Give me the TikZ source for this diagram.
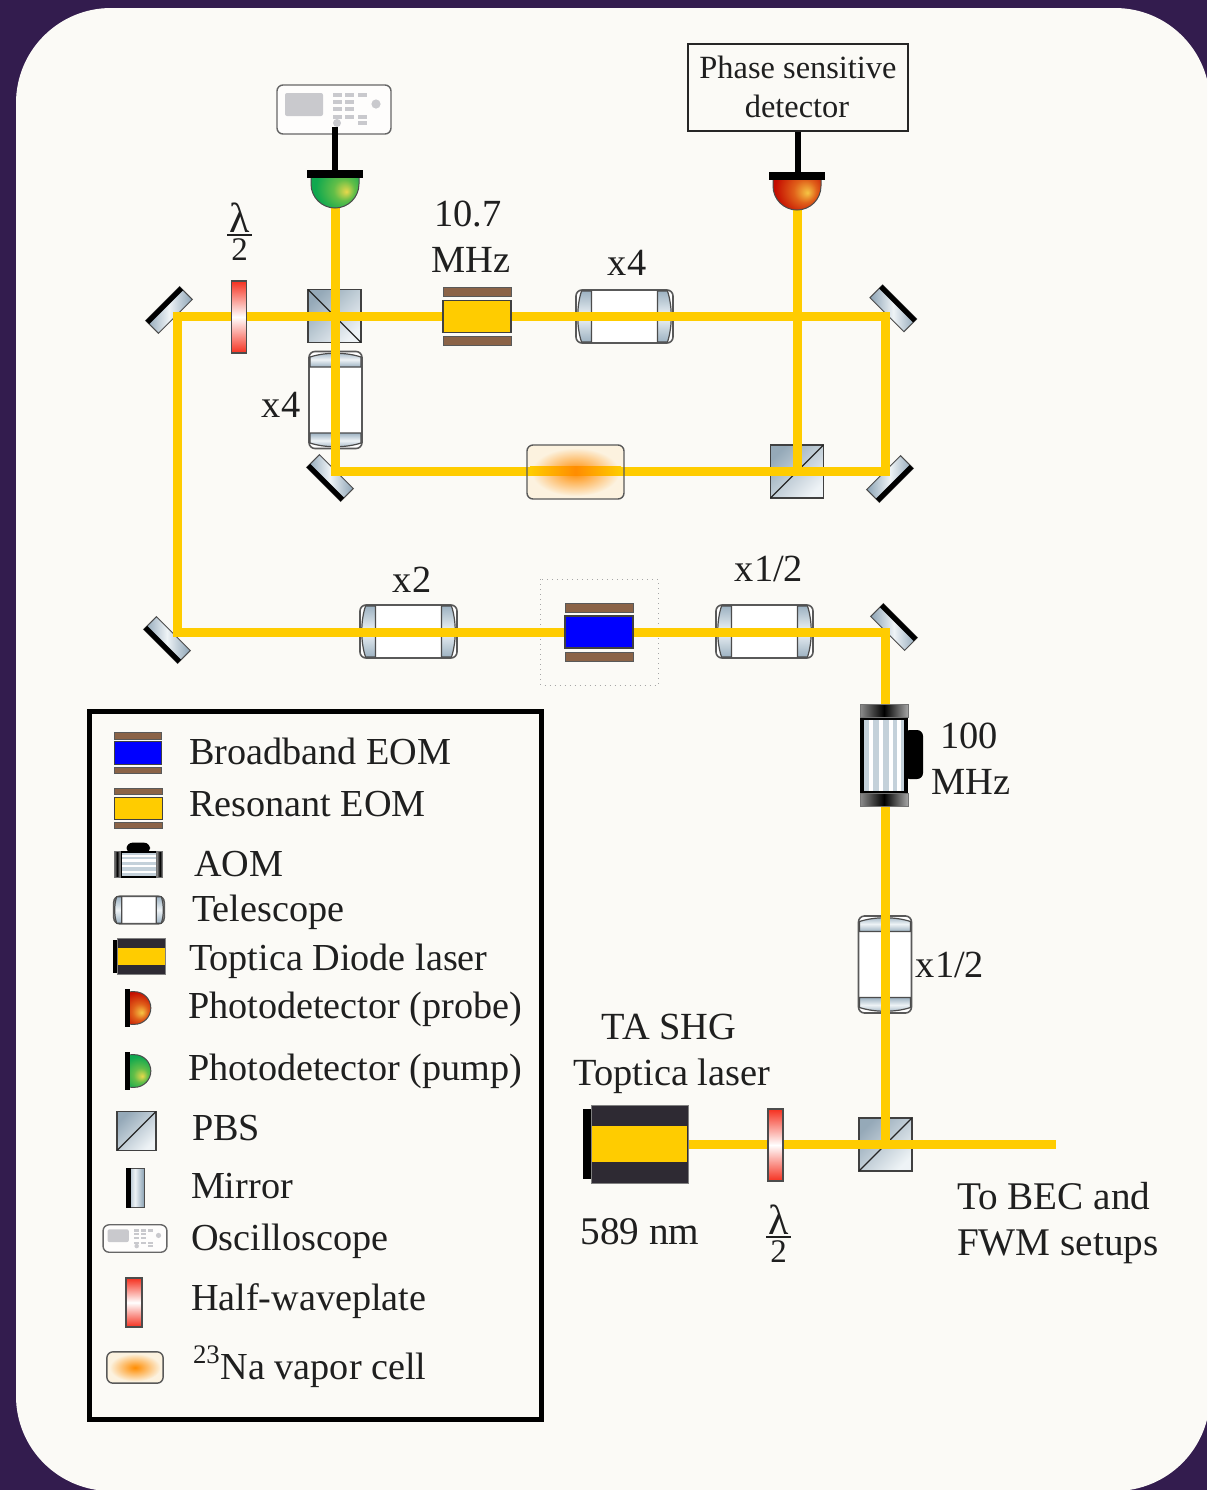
\documentclass[tikz,border=0pt]{standalone}
\usepackage{fontspec}
\setmainfont{Liberation Serif}
\definecolor{bgp}{HTML}{331C4E}
\definecolor{panelc}{HTML}{FBFAF6}
\definecolor{beamc}{HTML}{FFCC00}
\definecolor{silver}{HTML}{9DB2C2}
\definecolor{silverd}{HTML}{8CA3B5}
\definecolor{silverl}{HTML}{EEF3F6}
\definecolor{brownb}{HTML}{8B6347}
\definecolor{laserd}{HTML}{2E2A33}
\definecolor{btn}{HTML}{C9C9CD}
\definecolor{gy}{HTML}{E8D84C}
\definecolor{gm}{HTML}{62BE48}
\definecolor{gg}{HTML}{0FA84F}
\definecolor{ry}{HTML}{F6C544}
\definecolor{rm}{HTML}{E0601A}
\definecolor{rr}{HTML}{C40C00}
\definecolor{plater}{HTML}{F5301F}
\definecolor{cellf}{HTML}{FCF2DF}
\definecolor{cello}{HTML}{FF8C00}
\pgfdeclareradialshading{greendome}{\pgfpoint{12bp}{-8bp}}{color(0bp)=(gy); color(11bp)=(gm); color(26bp)=(gg); color(50bp)=(gg)}
\pgfdeclareradialshading{reddome}{\pgfpoint{11bp}{-7bp}}{color(0bp)=(ry); color(12bp)=(rm); color(28bp)=(rr); color(50bp)=(rr)}
\tikzset{
  x=0.5pt,y=-0.5pt,
  beam/.style={draw=beamc,line width=4.5pt,line cap=butt,line join=miter},
  lbl/.style={inner sep=0pt,outer sep=0pt,anchor=base,text=black!88,font=\fontsize{19.2}{22}\selectfont},
  lblwide/.style={lbl,font=\fontsize{19.6}{22}\selectfont},
  lgd/.style={lbl,anchor=base west,font=\fontsize{19.1}{22}\selectfont},
  wire/.style={draw=black,line width=2.6pt},
  pics/mirrorel/.style={code={
    \shade[left color=silverd,right color=silverd,middle color=silverl,draw=black!70,line width=.5pt] (-24,-9) rectangle (24,9);
    \fill[black] (-24,-9) rectangle (24,-4);
  }},
  pics/plateel/.style={code={
    \shade[top color=plater,bottom color=plater,middle color=white,draw=black!70,line width=.7pt] (-7.5,-36) rectangle (7.5,36);
  }},
  pics/pbsel/.style={code={
    \shade[top color=silver!95!black,bottom color=silverl,shading angle=45,draw=black!75,line width=.7pt] (-26.5,-26.5) rectangle (26.5,26.5);
    \draw[black!85,line width=.6pt] (-26.5,26.5) -- (26.5,-26.5);
  }},
  pics/teleel/.style={code={
    \draw[draw=black!65,fill=white,line width=.8pt,rounded corners=3pt] (-48.5,-26.5) rectangle (48.5,26.5);
    \shade[top color=silver,bottom color=silver,middle color=silverl,draw=black!70,line width=.6pt] (-33,-25.5) -- (-43,-25.5) .. controls (-48,-10) and (-48,10) .. (-43,25.5) -- (-33,25.5) -- cycle;
    \shade[top color=silver,bottom color=silver,middle color=silverl,draw=black!70,line width=.6pt] (33,-25.5) -- (43,-25.5) .. controls (48,-10) and (48,10) .. (43,25.5) -- (33,25.5) -- cycle;
  }},
  pics/eomel/.style={code={
    \fill[#1,draw=black!75,line width=.6pt] (-34,-16) rectangle (34,16);
    \fill[brownb,draw=black!65,line width=.5pt] (-34,-29) rectangle (34,-20);
    \fill[brownb,draw=black!65,line width=.5pt] (-34,20) rectangle (34,29);
  }},
  pics/aomel/.style={code={
    \fill[black,rounded corners=3pt] (20,-25) rectangle (39,24);
    \fill[black] (-24,-40) rectangle (24,40);
    \fill[silver!60] (-20,-35) rectangle (20,36);
    \fill[white] (-15,-35) rectangle (-11,36);
    \fill[white] (-5,-35) rectangle (-1,36);
    \fill[white] (5,-35) rectangle (9,36);
    \fill[white] (13,-35) rectangle (17,36);
    \shade[left color=black!45,right color=black!35,middle color=black,draw=black!55,line width=.5pt] (-24,-51) rectangle (24,-38);
    \shade[left color=black!45,right color=black!35,middle color=black,draw=black!55,line width=.5pt] (-24,38) rectangle (24,51);
  }},
  pics/laserel/.style={code={
    \fill[black] (-53,-35) rectangle (-40,35);
    \fill[laserd,draw=black!50,line width=.4pt] (-45,-39) rectangle (52,39);
    \fill[beamc] (-44,-18) rectangle (51,18);
  }},
  pics/domeel/.style={code={
    \begin{scope}
      \clip (-24,8) -- (-24,14) .. controls (-24,27.25) and (-13.25,38) .. (0,38) .. controls (13.25,38) and (24,27.25) .. (24,14) -- (24,8) -- cycle;
      \shade[shading=#1] (-24,-10) rectangle (24,38);
    \end{scope}
    \draw[black!70,line width=.5pt] (-24,8) -- (-24,14) .. controls (-24,27.25) and (-13.25,38) .. (0,38) .. controls (13.25,38) and (24,27.25) .. (24,14) -- (24,8);
    \fill[black] (-28,0) rectangle (28,8);
  }},
  pics/scopeel/.style={code={
    \fill[white!70!panelc,draw=black!60,line width=.7pt,rounded corners=3pt] (-57,-24.5) rectangle (57,24.5);
    \fill[btn,rounded corners=1pt] (-49,-16.5) rectangle (-11,6.5);
    \foreach \bx/\by in {-1/-14.5,11/-14.5,24/-14.5,-1/-7.5,11/-7.5,-1/-.5,11/-.5,-1/7.5,11/7.5,24/7.5,24/13.5}{
      \fill[btn] (\bx,\by-2) rectangle (\bx+9,\by+2);
    }
    \fill[btn] (3,13.5) circle[radius=2pt];
    \fill[btn] (42,-5.5) circle[radius=2.3pt];
  }},
  pics/cellel/.style={code={
    \fill[cellf] (-48.5,-27) [rounded corners=3pt] rectangle (48.5,27);
    \shade[inner color=cello,outer color=cellf] (0,0) ellipse[x radius=44,y radius=24];
  }},
  pics/celledge/.style={code={
    \draw[black!65,line width=.7pt,rounded corners=3pt] (-48.5,-27) rectangle (48.5,27);
  }},
}
\newcommand{\halfwave}{\vbox{\hsize=12.5pt\hbox to 12.5pt{\hss\fontsize{21}{24}\selectfont λ\hss}\kern.8pt\hrule height .8pt\kern1.2pt\hbox to 12.5pt{\hss\fontsize{16.5}{20}\selectfont 2\hss}}}
\begin{document}
\begin{tikzpicture}
\useasboundingbox (0,0) rectangle (1207,1490);
\begin{scope}
\clip (0,0) rectangle (1207,1490);
\fill[bgp] (0,0) rectangle (1207,1490);
\fill[panelc,rounded corners=47.5pt] (16,8) rectangle (1210,1491);
\end{scope}

% beam coordinates
\coordinate (lsr) at (688,1144);
\coordinate (beamend) at (1056,1144);
\coordinate (c1) at (885.5,1144);
\coordinate (c2) at (885.5,632);
\coordinate (c3) at (177,632);
\coordinate (c4) at (177,316);
\coordinate (c5) at (885.5,316);
\coordinate (c6) at (885.5,471);
\coordinate (c7) at (335,471);
\coordinate (pdg) at (335,208);
\coordinate (pbsb) at (797,471);
\coordinate (pdr) at (797,210);

% parts under the beam
\pic[rotate=90] (pbsa) at (334.5,316) {pbsel};
\pic (pbsc) at (797,471.5) {pbsel};
\pic (pbsd) at (885.5,1144.5) {pbsel};
\pic (tela) at (624.5,316.5) {teleel};
\pic[rotate=90] (telb) at (335.5,400) {teleel};
\pic (telc) at (408.5,631.5) {teleel};
\pic (teld) at (764.5,631.5) {teleel};
\pic[rotate=90] (tele) at (885,964.5) {teleel};
\pic (cell) at (575.5,472) {cellel};
\pic[rotate=45] (ma) at (169,310) {mirrorel};
\pic[rotate=-45] (mb) at (893.3,308.3) {mirrorel};
\pic[rotate=225] (mc) at (890,479) {mirrorel};
\pic[rotate=135] (md) at (330,478) {mirrorel};
\pic[rotate=135] (me) at (167,640) {mirrorel};
\pic[rotate=-45] (mf) at (894,627) {mirrorel};
\draw[draw=black!35,dotted,line width=.5pt] (540.5,579) rectangle (658,685);

% beams
\draw[beam] (lsr) -- (beamend);
\draw[beam] (c1) -- (c2) -- (c3) -- (c4) -- (c5) -- (c6) -- (c7) -- (pdg);
\draw[beam] (pbsb) -- (pdr);
\shade[left color=beamc,right color=beamc,middle color=cello] (530,466.5) rectangle (621,475.5);
\pic (celltop) at (575.5,472) {celledge};

% parts over the beam
\pic (wpa) at (239,317) {plateel};
\pic (wpb) at (775.5,1145) {plateel};
\pic (eoma) at (477,316.5) {eomel={beamc}};
\pic (eomb) at (599,632) {eomel={blue}};
\pic (aom) at (884,755) {aomel};
\pic (lasr) at (636,1144) {laserel};
\pic (dg) at (335,170) {domeel={greendome}};
\pic (dr) at (797,172) {domeel={reddome}};
\pic (osc) at (334,109.5) {scopeel};
\node[draw=black!85,line width=.8pt,minimum width=110pt,minimum height=43.5pt,inner sep=0pt] (psd) at (798,87.5) {};
\draw[wire] (335,127) -- (335,170);
\draw[wire] (psd.south) -- ++(0,41);

% labels
\node[lbl,font=\fontsize{16.2}{20}\selectfont] (t1) at (798,78) {Phase sensitive};
\node[lbl,font=\fontsize{16.2}{20}\selectfont] (t2) at (797,117) {detector};
\node[lbl] (t3) at (468,226) {10.7};
\node[lbl] (t4) at (471,272) {MHz};
\node[lbl] (t5) at (627,275) {x4};
\node[lbl] (t6) at (281,417) {x4};
\node[lbl] (t7) at (412,592) {x2};
\node[lbl] (t8) at (769,581) {x1/2};
\node[lbl] (t9) at (950,977) {x1/2};
\node[lbl] (t10) at (969,748) {100};
\node[lbl] (t11) at (971,794) {MHz};
\node[lbl] (t12) at (669,1039) {TA SHG};
\node[lbl] (t13) at (672,1085) {Toptica laser};
\node[lblwide] (t14) at (640,1244) {589 nm};
\node[lblwide,anchor=base west] (t15) at (957,1209) {To BEC and};
\node[lblwide,anchor=base west] (t16) at (957,1255) {FWM setups};
\node[inner sep=0pt,outer sep=0pt,anchor=north,text=black!88] (la) at (239.5,203) {\halfwave};
\node[inner sep=0pt,outer sep=0pt,anchor=north,text=black!88] (lb) at (778.5,1205) {\halfwave};

% legend
\node[draw=black,line width=2.5pt,minimum width=226pt,minimum height=354pt,inner sep=0pt] (lgdbox) at (315.5,1065.5) {};
\pic[scale=.7] (ia) at (138,753) {eomel={blue}};
\pic[scale=.7] (ib) at (138.5,808.5) {eomel={beamc}};
\pic[rotate=90,xscale=.56,yscale=.48] (ic) at (138.5,864.5) {aomel};
\pic[scale=.52] (id) at (139,910) {teleel};
\pic[xscale=.5,yscale=.47] (ie) at (139.5,956.5) {laserel};
\pic[rotate=90,scale=.68] (if) at (125,1008) {domeel={reddome}};
\pic[rotate=90,scale=.68] (ig) at (125,1071) {domeel={greendome}};
\pic[scale=.73] (ih) at (136.5,1131) {pbsel};
\pic[rotate=90,xscale=.83,yscale=1] (ii) at (135,1188) {mirrorel};
\pic[scale=.56] (ij) at (135,1238.5) {scopeel};
\pic[xscale=1.07,yscale=.68] (ik) at (134,1302.5) {plateel};
\pic[scale=.58] (il) at (135,1367.5) {cellel};
\pic[scale=.58] (im) at (135,1367.5) {celledge};
\node[lgd] (l1) at (189,764) {Broadband EOM};
\node[lgd] (l2) at (189,816) {Resonant EOM};
\node[lgd] (l3) at (194,876) {AOM};
\node[lgd] (l4) at (192,921) {Telescope};
\node[lgd] (l5) at (189,970) {Toptica Diode laser};
\node[lgd] (l6) at (188,1018) {Photodetector (probe)};
\node[lgd] (l7) at (188,1080) {Photodetector (pump)};
\node[lgd] (l8) at (192,1140) {PBS};
\node[lgd] (l9) at (191,1198) {Mirror};
\node[lgd] (l10) at (191,1250) {Oscilloscope};
\node[lgd] (l11) at (191,1310) {Half-waveplate};
\node[lgd] (l12) at (193,1379) {\textsuperscript{23}Na vapor cell};
\end{tikzpicture}
\end{document}
